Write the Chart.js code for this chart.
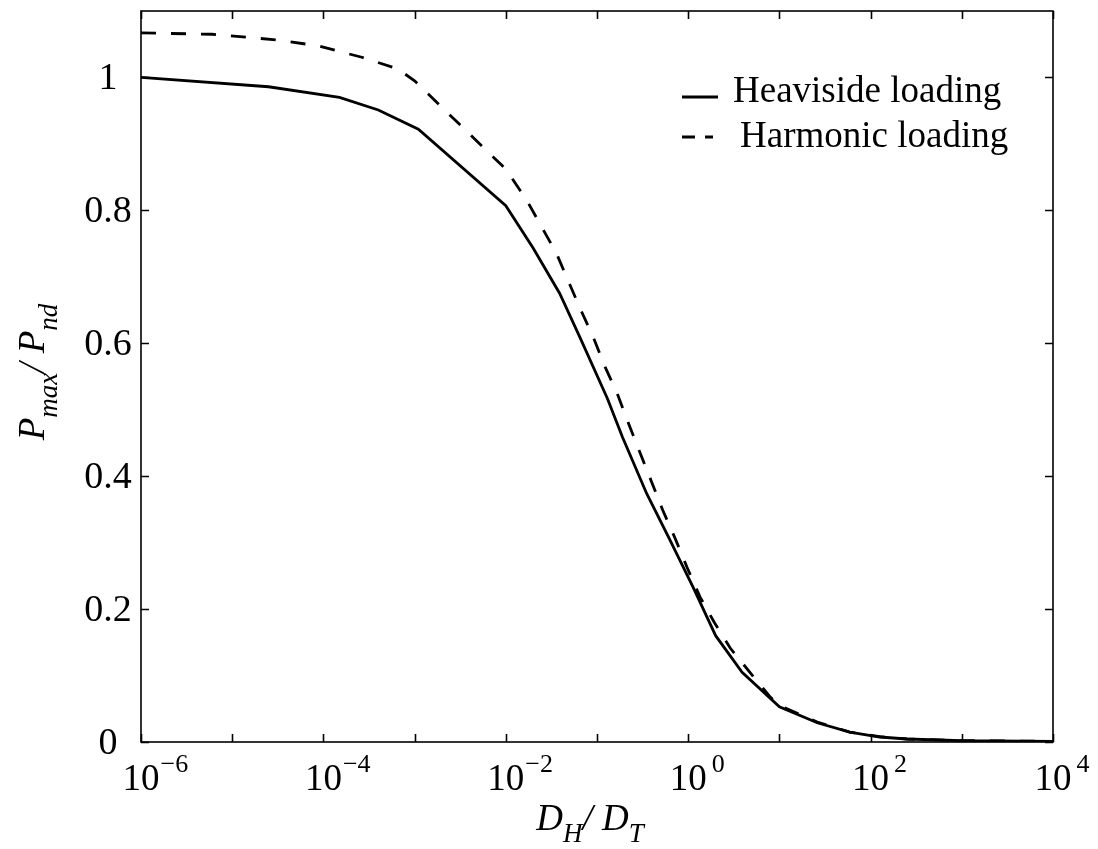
<!DOCTYPE html>
<html>
<head>
<meta charset="utf-8">
<script src="https://cdn.jsdelivr.net/npm/chart.js@4.4.1/dist/chart.umd.min.js"></script>
<style>
    html, body { margin: 0; padding: 0; background: #fff; }
    #wrap { width: 1098px; height: 849px; }
</style>
</head>
<body>
<div id="wrap"><canvas id="pmax"></canvas></div>
<script>
// D_H / D_T values and P_max / P_nd
const heavisideX = [1e-6, 2.5e-5, 1.5e-4, 4e-4, 1.1e-3, 1e-2, 2e-2, 3.9e-2, 6.5e-2, 0.13, 0.19, 0.35, 0.63, 1.13, 2.0, 3.9, 10, 26, 59, 126, 250, 1000, 1e4]
const heavisideY = [1.0, 0.986, 0.970, 0.951, 0.922, 0.807, 0.743, 0.675, 0.609, 0.517, 0.459, 0.374, 0.304, 0.233, 0.160, 0.105, 0.053, 0.029, 0.015, 0.0075, 0.0045, 0.002, 0.001]
const harmonicX = [1e-6, 6e-6, 2.8e-5, 8.5e-5, 2.7e-4, 6.5e-4, 1e-3, 1e-2, 1.7e-2, 2.5e-2, 3.6e-2, 4.8e-2, 6.5e-2, 9.1e-2, 0.123, 0.166, 0.219, 0.295, 0.398, 0.525, 0.716, 0.97, 1.35, 1.95, 2.9, 4.8, 7.9, 10, 26, 59, 126, 250, 1000, 1e4]
const harmonicY = [1.067, 1.065, 1.057, 1.048, 1.030, 1.013, 0.995, 0.862, 0.815, 0.774, 0.735, 0.695, 0.653, 0.609, 0.564, 0.525, 0.481, 0.436, 0.391, 0.349, 0.307, 0.263, 0.218, 0.179, 0.141, 0.104, 0.068, 0.055, 0.030, 0.015, 0.008, 0.0045, 0.002, 0.001]
const seriesNames = ['Heaviside loading', 'Harmonic loading']
const xTicks = [1e-6, 1e-5, 1e-4, 1e-3, 1e-2, 1e-1, 1e0, 1e1, 1e2, 1e3, 1e4]
const xLabelExps = [-6, -4, -2, 0, 2, 4]
const yTicks = [0, 0.2, 0.4, 0.6, 0.8, 1]
const yTickLabels = ['0', '0.2', '0.4', '0.6', '0.8', '1']

const SERIF = '"Liberation Serif", "Times New Roman", serif'

function pairs(xs, ys) {
    return xs.map((x, i) => ({ x: x, y: ys[i] }))
}

// draw a row of text pieces (for sub/superscripts) starting at x
function drawRuns(ctx, runs, x, y, align) {
    let total = 0
    runs.forEach((r) => {
        ctx.font = r.font
        r.w = ctx.measureText(r.text).width + (r.gap || 0)
    })
    runs.forEach((r) => (total += r.w))
    let cx = align == 'center' ? x - total / 2 : x
    runs.forEach((r) => {
        ctx.font = r.font
        ctx.fillText(r.text, cx, y + (r.dy || 0))
        cx += r.w
    })
}

const axesPlugin = {
    id: 'matlabAxes',
    afterDatasetsDraw(chart) {
        const ctx = chart.ctx,
            area = chart.chartArea,
            xs = chart.scales.x,
            ys = chart.scales.y
        ctx.save()
        ctx.strokeStyle = '#000'
        ctx.fillStyle = '#000'
        ctx.lineWidth = 1.6
        ctx.strokeRect(area.left, area.top, area.right - area.left, area.bottom - area.top)

        // inward ticks on all four sides
        const tl = 8
        ctx.beginPath()
        xTicks.forEach((v) => {
            const px = Math.round(xs.getPixelForValue(v)) + 0.5
            ctx.moveTo(px, area.bottom)
            ctx.lineTo(px, area.bottom - tl)
            ctx.moveTo(px, area.top)
            ctx.lineTo(px, area.top + tl)
        })
        yTicks.forEach((v) => {
            const py = Math.round(ys.getPixelForValue(v)) + 0.5
            ctx.moveTo(area.left, py)
            ctx.lineTo(area.left + tl, py)
            ctx.moveTo(area.right, py)
            ctx.lineTo(area.right - tl, py)
        })
        ctx.stroke()

        // y tick labels
        ctx.textBaseline = 'alphabetic'
        ctx.textAlign = 'center'
        ctx.font = '38px ' + SERIF
        yTicks.forEach((v, i) => {
            ctx.fillText(yTickLabels[i], 108, ys.getPixelForValue(v) + 12)
        })

        // x tick labels 10^n
        ctx.textAlign = 'left'
        xLabelExps.forEach((e) => {
            const px = xs.getPixelForValue(Math.pow(10, e))
            ctx.font = '37px ' + SERIF
            const w = ctx.measureText('10').width
            ctx.fillText('10', px - w / 2, 790)
            ctx.font = '26px ' + SERIF
            const sup = e < 0 ? '\u2212' + -e : String(e)
            ctx.fillText(sup, px + w / 2 + (e < 0 ? 1 : 5), 772)
        })

        // x axis title
        const big = 'italic 37px ' + SERIF,
            small = 'italic 27px ' + SERIF
        drawRuns(ctx, [
            { text: 'D', font: big },
            { text: 'H', font: small, dy: 12 },
            { text: '/ ', font: big },
            { text: 'D', font: big },
            { text: 'T', font: small, dy: 12 },
        ], 590, 830, 'center')

        // y axis title, rotated
        ctx.save()
        ctx.translate(44, 372)
        ctx.rotate(-Math.PI / 2)
        drawRuns(ctx, [
            { text: 'P', font: big },
            { text: 'max', font: small, dy: 13 },
            { text: '/ ', font: big },
            { text: 'P', font: big },
            { text: 'nd', font: small, dy: 13 },
        ], 0, 0, 'center')
        ctx.restore()

        // legend
        ctx.lineWidth = 2.8
        ctx.beginPath()
        ctx.moveTo(682, 97)
        ctx.lineTo(718, 97)
        ctx.stroke()
        ctx.setLineDash([13, 10])
        ctx.beginPath()
        ctx.moveTo(682, 137)
        ctx.lineTo(713, 137)
        ctx.stroke()
        ctx.setLineDash([])
        ctx.font = '37px ' + SERIF
        ctx.fillText(seriesNames[0], 733, 102)
        ctx.fillText(seriesNames[1], 740, 147)
        ctx.restore()
    },
}

new Chart(document.getElementById('pmax'), {
    type: 'line',
    data: {
        datasets: [
            {
                label: seriesNames[0],
                data: pairs(heavisideX, heavisideY),
                borderColor: '#000',
                borderWidth: 2.8,
            },
            {
                label: seriesNames[1],
                data: pairs(harmonicX, harmonicY),
                borderColor: '#000',
                borderWidth: 2.8,
                borderDash: [15, 15],
            },
        ],
    },
    options: {
        responsive: true,
        maintainAspectRatio: false,
        animation: false,
        elements: {
            point: { radius: 0, hoverRadius: 0 },
            line: { tension: 0, fill: false },
        },
        layout: { padding: { left: 141, right: 45, top: 11, bottom: 107 } },
        scales: {
            x: { type: 'logarithmic', min: 1e-6, max: 1e4, display: false },
            y: { type: 'linear', min: 0, max: 1.1, display: false },
        },
        plugins: {
            legend: { display: false },
            tooltip: { enabled: false },
        },
    },
    plugins: [axesPlugin],
})
</script>
</body>
</html>
